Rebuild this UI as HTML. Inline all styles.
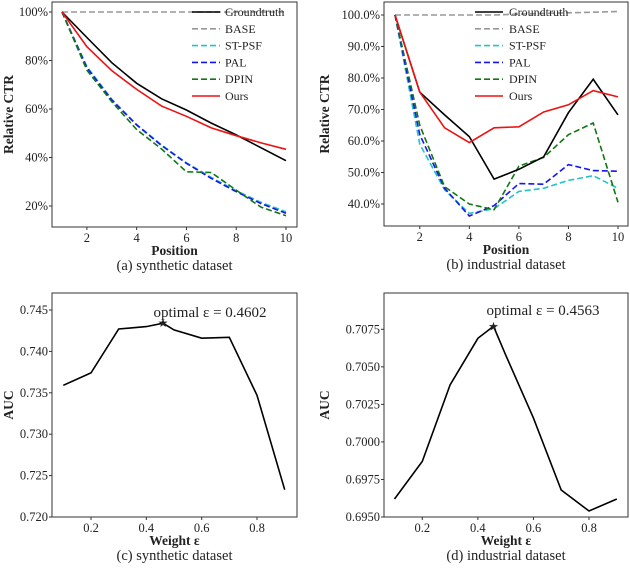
<!DOCTYPE html>
<html><head><meta charset="utf-8"><style>
body{margin:0;background:#fff;}
svg text{font-family:"Liberation Serif",serif;fill:#222;}
</style></head><body>
<svg id="fig" width="630" height="566" viewBox="0 0 630 566" xmlns="http://www.w3.org/2000/svg"></svg>
<script>
// ---- data ----
const positions = [1,2,3,4,5,6,7,8,9,10];
const seriesNames = ["Groundtruth","BASE","ST-PSF","PAL","DPIN","Ours"];
const synGroundtruth = [100,89.5,79.1,70.6,64.2,59.6,54.2,49.3,44,38.7];
const synBase = [100,100,100,100,100,100,100,100,100,100];
const synStpsf = [100,77.5,64,53.6,45.2,37.8,31.8,26.3,21.5,17.6];
const synPal = [100,77,63.7,53.4,44.9,37.6,31.4,25.9,21,17];
const synDpin = [100,76,63,51.5,43.5,34.1,33.8,26.5,19.5,16];
const synOurs = [100,85.7,75.8,68.1,61.2,57,52.2,49,46,43.4];
const indGroundtruth = [100,75.5,68.3,61.4,47.9,51,55,69,79.6,68.3];
const indBase = [100,100,100,100,100,100.3,100.5,100.7,100.9,101.1];
const indStpsf = [100,59,44.5,37,38.5,44,45,47.5,49,45];
const indPal = [100,62,45,36.2,39.5,46.5,46.3,52.5,50.6,50.4];
const indDpin = [100,65,45.5,40,38.2,52,54.8,62,65.7,40.5];
const indOurs = [100,75.5,64.2,59.5,64.2,64.5,69.2,71.5,76,74];
const synTicksY = [20,40,60,80,100];
const indTicksY = [40,50,60,70,80,90,100];
const posTicksX = [2,4,6,8,10];
const weights = [0.1,0.2,0.3,0.4,0.4602,0.5,0.6,0.7,0.8,0.9];
const synAuc = [0.7359,0.7374,0.7427,0.7430,0.7434,0.7426,0.7416,0.7417,0.7347,0.7233];
const indWeights = [0.1,0.2,0.3,0.4,0.4563,0.5,0.6,0.7,0.8,0.9];
const indAuc = [0.6962,0.6987,0.7038,0.7069,0.7077,0.7058,0.7016,0.6968,0.6954,0.6962];
const synOptW = 0.4602, synOptA = 0.7434;
const indOptW = 0.4563, indOptA = 0.7077;
const synAucTicks = [0.720,0.725,0.730,0.735,0.740,0.745];
const indAucTicks = [0.6950,0.6975,0.7000,0.7025,0.7050,0.7075];
const wTicks = [0.2,0.4,0.6,0.8];

const NS="http://www.w3.org/2000/svg";
const svg=document.getElementById('fig');
function mk(tag,attrs,parent){const e=document.createElementNS(NS,tag);for(const k in attrs)e.setAttribute(k,attrs[k]);(parent||svg).appendChild(e);return e;}
function txt(s,x,y,size,anchor,parent,extra){const t=mk('text',Object.assign({x:x,y:y,'font-size':size,'text-anchor':anchor||'middle'},extra||{}),parent);t.textContent=s;return t;}
function lin(d0,d1,r0,r1){return v=>r0+(v-d0)*(r1-r0)/(d1-d0);}

function panel(name,box,sx,sy,xt,xfmt,yt,yfmt,xlabel,ylabel,caption){
  const g=mk('g',{});
  
  
  const fr=mk('rect',{x:box[0],y:box[1],width:box[2]-box[0],height:box[3]-box[1],fill:'none',stroke:'#333','stroke-width':1},g);
  
  
  xt.forEach(v=>{const x=sx(v);mk('line',{x1:x,x2:x,y1:box[3],y2:box[3]+3,stroke:'#333'},g);
    const t=txt(xfmt(v),x,box[3]+15,12.5,'middle',g);
    
    });
  yt.forEach(v=>{const y=sy(v);mk('line',{x1:box[0]-3,x2:box[0],y1:y,y2:y,stroke:'#333'},g);
    const t=txt(yfmt(v),box[0]-4,y+4,12.5,'end',g);
    
    });
  const xl=txt(xlabel,(box[0]+box[2])/2,box[3]+28,13.5,'middle',g,{'font-weight':'bold'});
  
  
  const yc=(box[1]+box[3])/2;
  const yx=box[0]===52?13:box[0]-55;
  const yl=txt(ylabel,yx,yc,13.5,'middle',g,{'font-weight':'bold',transform:'rotate(-90 '+yx+' '+yc+')'});
  
  
  const cp=txt(caption,(box[0]+box[2])/2,box[3]+43,14.5,'middle',g);
  
  
  return g;
}
function series(g,xs,ys,sx,sy,color,dash,name){
  const pts=xs.map((x,i)=>sx(x).toFixed(1)+','+sy(ys[i]).toFixed(1)).join(' ');
  const p=mk('polyline',{points:pts,fill:'none',stroke:color,'stroke-width':1.6,'stroke-dasharray':dash||'none'},g);
  
  
}
const colors=['#000','#999','#22c3c9','#1515ee','#117711','#ee1111'];
const dashes=['','6,3','6,3','6,3','6,3',''];
function legend(g,x0,x1,tx,y0){
  seriesNames.forEach((n,i)=>{const y=y0+i*16.8;
    const l=mk('line',{x1:x0,x2:x1,y1:y,y2:y,stroke:colors[i],'stroke-width':1.6,'stroke-dasharray':dashes[i]||'none'},g);
    
    
    const t=txt(n,tx,y+4,12,'start',g);
    
    });
}
// (a)
{const box=[52,2,297,227];const sx=lin(1,10,62,286),sy=lin(100,20,12,206);
 const g=panel('chart-synthetic-ctr',box,sx,sy,posTicksX,v=>v,synTicksY,v=>v+'%','Position','Relative CTR','(a) synthetic dataset');
 const data=[synGroundtruth,synBase,synStpsf,synPal,synDpin,synOurs];
 [1,2,3,4,0,5].forEach(i=>series(g,positions,data[i],sx,sy,colors[i],dashes[i],'line-'+seriesNames[i].toLowerCase()));
 legend(g,192,220,225,12);}
// (b)
{const box=[384,2,628,226];const sx=lin(1,10,395,618),sy=lin(100,40,15,204);
 const g=panel('chart-industrial-ctr',box,sx,sy,posTicksX,v=>v,indTicksY,v=>v.toFixed(1)+'%','Position','Relative CTR','(b) industrial dataset');
 const data=[indGroundtruth,indBase,indStpsf,indPal,indDpin,indOurs];
 [1,2,3,4,0,5].forEach(i=>series(g,positions,data[i],sx,sy,colors[i],dashes[i],'line-'+seriesNames[i].toLowerCase()));
 legend(g,475,503,509,12);}
// (c)
{const box=[52,293,297,517];const sx=lin(0.2,0.8,91,257),sy=lin(0.720,0.745,517,310);
 const g=panel('chart-synthetic-auc',box,sx,sy,wTicks,v=>v.toFixed(1),synAucTicks,v=>v.toFixed(3),'Weight ε','AUC','(c) synthetic dataset');
 series(g,weights,synAuc,sx,sy,'#000','','line-auc');
 const s=txt('★',sx(synOptW),sy(synOptA)+4,12,'middle',g);
 
 
 const a=txt('optimal ε = 0.4602',210,317,15,'middle',g);
 
 }
// (d)
{const box=[384,293,628,517];const sx=lin(0.2,0.8,422.3,589),sy=lin(0.695,0.7075,517,329.3);
 const g=panel('chart-industrial-auc',box,sx,sy,wTicks,v=>v.toFixed(1),indAucTicks,v=>v.toFixed(4),'Weight ε','AUC','(d) industrial dataset');
 series(g,indWeights,indAuc,sx,sy,'#000','','line-auc');
 const s=txt('★',sx(indOptW),sy(indOptA)+4,12,'middle',g);
 
 
 const a=txt('optimal ε = 0.4563',543,315,15,'middle',g);
 
 }
</script>
</body></html>
